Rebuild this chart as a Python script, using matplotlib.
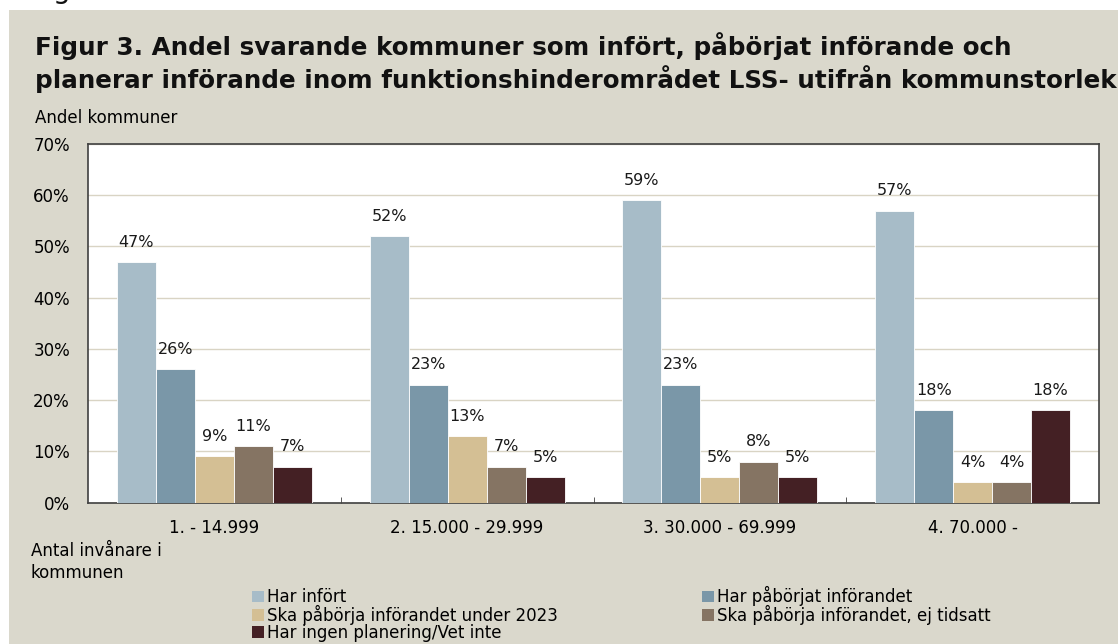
import matplotlib
matplotlib.use("Agg")
import matplotlib.pyplot as plt
import numpy as np
from matplotlib.patches import Rectangle, Patch

plt.rcParams['font.family'] = ['DejaVu Sans']

categories = ["1. - 14.999", "2. 15.000 - 29.999", "3. 30.000 - 69.999", "4. 70.000 -"]
series_names = ["Har infört", "Har påbörjat införandet", "Ska påbörja införandet under 2023",
                "Ska påbörja införandet, ej tidsatt", "Har ingen planering/Vet inte"]
har_infort = [47, 52, 59, 57]
har_paborjat = [26, 23, 23, 18]
ska_2023 = [9, 13, 5, 4]
ska_ej_tidsatt = [11, 7, 8, 4]
ingen_planering = [7, 5, 5, 18]
yticks = [0, 10, 20, 30, 40, 50, 60, 70]

colors = ["#a7bcc8", "#7a97a8", "#d4bf94", "#857463", "#442024"]
series = [har_infort, har_paborjat, ska_2023, ska_ej_tidsatt, ingen_planering]

W, H = 1118, 644
fig = plt.figure(figsize=(W / 100, H / 100), dpi=100, facecolor="white")
fig.patches.append(Rectangle((9 / W, 0), 1 - 9 / W, 1 - 10 / H, transform=fig.transFigure,
                             facecolor="#dad8cc", edgecolor="none", zorder=-10))

ax = fig.add_axes([88 / W, (H - 502.5) / H, 1011 / W, (502.5 - 144) / H])
ax.set_facecolor("white")

x = np.arange(len(categories))
bw = 39 / 252.75
for i, (vals, c, name) in enumerate(zip(series, colors, series_names)):
    pos = x + (i - 2) * bw
    ax.bar(pos, vals, width=bw, color=c, edgecolor="white", linewidth=0.6, label=name, zorder=3)
    for p, v in zip(pos, vals):
        ax.text(p, v + 2.4, f"{v}%", ha="center", va="bottom", fontsize=11.5, color="#1a1a1a")

ax.set_xlim(-0.5, 3.5)
ax.set_ylim(0, 70)
ax.set_yticks(yticks)
ax.set_yticklabels([f"{t}%" for t in yticks], fontsize=12)
ax.yaxis.grid(True, color="#d9d4c4", linewidth=1, zorder=0)
ax.set_axisbelow(True)
ax.tick_params(axis="y", length=0, pad=13)
ax.set_xticks(x)
ax.set_xticklabels(categories, fontsize=12)
ax.tick_params(axis="x", length=0, pad=12)
ax.set_xticks([0.5, 1.5, 2.5], minor=True)
ax.tick_params(axis="x", which="minor", direction="in", length=4, color="#404040")
for s in ax.spines.values():
    s.set_color("#404040")
    s.set_linewidth(1.2)

# remnant of a heading above the chart, clipped by the top edge
fig.text(53 / W, 1 + 2.5 / H, "g", fontsize=20, ha="left", va="baseline", color="#111111")

fig.text(35 / W, 1 - 55 / H, "Figur 3. Andel svarande kommuner som infört, påbörjat införande och",
         fontsize=17.7, fontweight="bold", ha="left", va="baseline", color="#111111")
fig.text(35 / W, 1 - 88 / H, "planerar införande inom funktionshinderområdet LSS- utifrån kommunstorlek",
         fontsize=17.7, fontweight="bold", ha="left", va="baseline", color="#111111")
fig.text(35 / W, 1 - 118 / H, "Andel kommuner", fontsize=12, ha="left", va="center")
fig.text(31 / W, 1 - 562 / H, "Antal invånare i\nkommunen", fontsize=12, ha="left", va="center",
         linespacing=1.3)

handles = [Patch(facecolor=c, edgecolor="none") for c in colors]
order = [0, 2, 4, 1, 3]
leg = fig.legend([handles[i] for i in order], [series_names[i] for i in order],
                 ncol=2, loc="upper left", bbox_to_anchor=(244 / W, 1 - 578 / H),
                 frameon=False, fontsize=12, handlelength=0.7, handleheight=0.7,
                 handletextpad=0.2, labelspacing=-0.08, columnspacing=8.65, borderpad=0)

fig.savefig("out.png", dpi=100, facecolor=fig.get_facecolor())
